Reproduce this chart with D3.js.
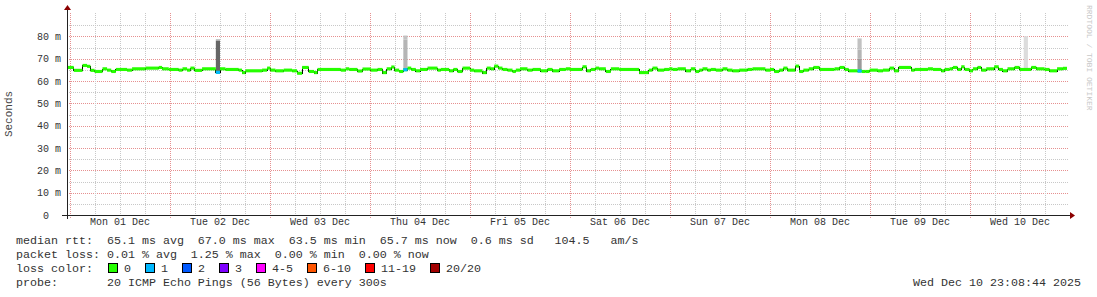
<!DOCTYPE html>
<html>
<head>
<meta charset="utf-8">
<script src="https://cdn.jsdelivr.net/npm/d3@7"></script>
<style>
  body { margin: 0; background: #fff; }
  text { font-family: "Liberation Mono", "DejaVu Sans Mono", monospace; white-space: pre; }
</style>
</head>
<body>
<div id="chart"></div>
<script>
// median rtt, step series: hours after Mon 01 Dec 00:00 -> ms
const medHours = [-0.8, 0.9, 3.0, 4.1, 4.9, 5.9, 7.8, 8.9, 9.9, 11.0, 13.7, 14.9, 18.1, 21.3, 22.1, 23.7,
  26.1, 27.0, 28.1, 28.9, 29.9, 31.7, 35.0, 36.0, 37.3, 40.5, 41.3, 42.1, 46.1, 47.3, 48.1, 49.3, 51.3,
  53.3, 54.5, 55.7, 57.3, 58.6, 59.4, 65.0, 66.2, 67.0, 69.0, 70.2, 72.2, 73.8, 75.0, 76.0, 77.1, 77.9,
  79.0, 80.0, 81.0, 81.9, 83.0, 84.0, 85.8, 88.2, 89.0, 91.0, 92.0, 93.0, 94.2, 96.0, 97.0, 99.0, 100.0,
  101.0, 101.8, 102.8, 103.8, 105.0, 106.2, 107.0, 108.0, 109.8, 111.0, 113.0, 114.6, 115.8, 117.4,
  119.0, 120.0, 123.0, 124.0, 125.0, 126.1, 127.0, 128.6, 129.8, 131.8, 136.6, 138.9, 139.8, 141.0,
  142.6, 143.8, 144.6, 145.8, 147.8, 149.0, 150.1, 151.0, 151.8, 153.0, 153.8, 155.0, 156.6, 157.8,
  159.0, 160.6, 162.6, 163.8, 166.9, 168.0, 169.0, 170.2, 171.2, 172.2, 174.1, 175.0, 176.0, 177.3,
  178.4, 179.9, 183.5, 184.7, 185.9, 186.9, 189.0, 190.0, 190.9, 191.9, 193.9, 195.1, 196.7, 197.8,
  198.9, 201.9, 202.7, 205.9, 207.1, 209.1, 209.9, 211.1, 211.9, 213.0, 213.9, 214.7, 215.9, 216.7,
  217.8, 218.7, 219.9, 221.8, 222.9, 223.9, 225.0, 226.7, 227.9, 230.7, 231.9, 233.9, 235.1, 236.9,
  238.3];
const medValues = [66.1, 64.8, 67.0, 66.6, 64.8, 64.3, 65.5, 64.9, 64.3, 65.2, 64.9, 65.5, 65.8, 66.1, 65.5, 65.2,
  64.9, 65.5, 64.9, 65.8, 64.8, 65.5, 63.9, 65.5, 65.2, 64.9, 63.8, 64.6, 64.9, 65.8, 64.9, 64.6, 64.9,
  64.6, 63.5, 66.1, 64.3, 63.8, 65.2, 64.9, 65.5, 65.2, 64.5, 65.4, 64.9, 65.2, 63.8, 65.5, 66.3, 64.9,
  64.3, 65.1, 65.8, 65.2, 64.6, 65.2, 65.8, 64.9, 65.2, 64.6, 65.2, 64.3, 65.8, 64.9, 64.6, 63.8, 65.8,
  65.5, 66.7, 65.8, 65.2, 64.9, 64.3, 64.9, 65.5, 64.9, 65.2, 64.6, 65.2, 64.6, 65.2,
  65.5, 65.2, 66.4, 64.6, 65.2, 65.8, 65.5, 64.3, 65.5, 65.2, 63.8, 64.9, 65.8, 64.9,
  65.2, 65.5, 65.2, 65.5, 64.6, 65.5, 64.3, 64.9, 65.5, 64.9, 65.2, 64.9, 65.5, 64.9,
  64.6, 64.9, 65.2, 65.5, 64.9, 65.2, 64.3, 64.9, 65.8, 64.9, 66.7, 64.3, 64.9, 65.5,
  66.1, 65.2, 65.5, 66.1, 65.2, 64.6, 64.5, 64.3, 64.3, 64.9, 64.6, 64.9, 65.8, 64.6,
  66.1, 64.9, 65.2, 65.5, 65.2, 64.6, 65.2, 65.5, 66.1, 65.2, 66.4, 65.2, 64.6, 65.5,
  66.1, 64.9, 65.5, 66.4, 65.2, 64.6, 65.5, 66.1, 65.2, 66.1, 65.5, 65.2, 64.6, 65.5,
  65.7];

// smoke (spread of the 20 pings) where it shows: hour, low ms, high ms, ping density
const smokeHours = [35.0, 35.0, 80.0, 80.0, 189.0, 189.0, 189.0, 228.9];
const smokeLow = [63.9, 78.0, 65.1, 78.5, 64.5, 70.0, 74.2, 65.5];
const smokeHigh = [78.0, 78.7, 78.5, 80.4, 70.0, 74.2, 79.1, 80.1];
const smokeDensity = [10, 5, 4, 3, 6, 4, 3, 1];

// packet loss (of 20) per hour slot, where not 0
const lossHours = [35.0, 80.0, 189.0];
const lossCounts = [1, 1, 1];

const lossLabels = ["0", "1", "2", "3", "4-5", "6-10", "11-19", "20/20"];
const lossColors = ["#26ff00", "#00b8ff", "#0059ff", "#7e00ff", "#ff00ff", "#ff5500", "#ff0000", "#a10000"];
const yTicks = [0, 10, 20, 30, 40, 50, 60, 70, 80];
const legendLines = [
  "median rtt:  65.1 ms avg  67.0 ms max  63.5 ms min  65.7 ms now  0.6 ms sd   104.5   am/s",
  "packet loss: 0.01 % avg  1.25 % max  0.00 % min  0.00 % now",
  "loss color:",
  "probe:       20 ICMP Echo Pings (56 Bytes) every 300s"
];
const stamp = "Wed Dec 10 23:08:44 2025";

const W = 1097, H = 297,
  pl = 67, pr = 1067, pt = 13, pb = 215,
  base = Date.UTC(2025, 11, 1),
  hour = h => new Date(base + h * 3600e3),
  t0 = new Date(base - 3 * 864e3),
  t1 = new Date(t0.getTime() + 1000 * 864e3);

const x = d3.scaleUtc().domain([t0, t1]).range([pl, pr]),
  y = d3.scaleLinear().domain([0, 90.5]).range([pb, pt]),
  gray = d3.scaleLinear().domain([1, 10]).range(["#dcdcdc", "#666666"]),
  lossColor = n => n === 0 ? lossColors[0] : n === 1 ? lossColors[1] : n === 2 ? lossColors[2] :
    n === 3 ? lossColors[3] : n <= 5 ? lossColors[4] : n <= 10 ? lossColors[5] : n < 20 ? lossColors[6] : lossColors[7];

const svg = d3.select("#chart").append("svg").attr("width", W).attr("height", H);

svg.append("defs").append("clipPath").attr("id", "plot")
  .append("rect").attr("x", pl).attr("y", pt).attr("width", pr - pl).attr("height", pb - pt);

// grid
const grid = svg.append("g").attr("shape-rendering", "crispEdges");
grid.selectAll(".hmin").data(d3.range(5, 90, 5)).enter().append("line")
  .attr("x1", pl).attr("x2", pr + 1).attr("y1", d => Math.round(y(d)) + 0.5).attr("y2", d => Math.round(y(d)) + 0.5)
  .attr("stroke", d => d % 10 ? "#c8c8c8" : "#e69090").attr("stroke-dasharray", "1,1");
grid.selectAll(".vmin").data(d3.utcHour.every(6).range(t0, t1)).enter().append("line")
  .attr("x1", d => Math.round(x(d)) + 0.5).attr("x2", d => Math.round(x(d)) + 0.5)
  .attr("y1", pt).attr("y2", d => d.getUTCHours() === 0 ? pb + 4 : pb)
  .attr("stroke", d => d.getUTCHours() === 0 ? "#e69090" : "#c8c8c8").attr("stroke-dasharray", "1,1");

const plot = svg.append("g").attr("clip-path", "url(#plot)");

// smoke
plot.selectAll(".smoke").data(smokeHours).enter().append("rect")
  .attr("x", d => x(hour(d))).attr("width", d => x(hour(d + 1)) - x(hour(d)))
  .attr("y", (d, i) => y(smokeHigh[i])).attr("height", (d, i) => y(smokeLow[i]) - y(smokeHigh[i]))
  .attr("fill", (d, i) => gray(smokeDensity[i]));

// median line
const pts = medHours.map((h, i) => [h, medValues[i]]).concat([[240, medValues[medValues.length - 1]]]);
plot.append("path")
  .attr("d", d3.line().curve(d3.curveStepAfter).x(d => x(hour(d[0]))).y(d => Math.round(y(d[1])) + 0.5)(pts))
  .attr("fill", "none").attr("stroke", "#000").attr("stroke-width", 1).attr("shape-rendering", "crispEdges");

// median band coloured by loss
const band = 0.7;
plot.selectAll(".band").data(medHours).enter().append("rect")
  .attr("x", d => x(hour(d)))
  .attr("width", (d, i) => x(hour(i + 1 < medHours.length ? medHours[i + 1] : 240)) - x(hour(d)))
  .attr("y", (d, i) => y(medValues[i] + band)).attr("height", (d, i) => y(medValues[i] - band) - y(medValues[i] + band))
  .attr("fill", lossColors[0]);

const medAt = h => medValues[d3.bisectRight(medHours, h) - 1];
plot.selectAll(".loss").data(lossHours).enter().append("rect")
  .attr("x", d => x(hour(d))).attr("width", d => x(hour(d + 1)) - x(hour(d)))
  .attr("y", d => y(medAt(d) + band)).attr("height", d => y(medAt(d) - band) - y(medAt(d) + band))
  .attr("fill", (d, i) => lossColor(lossCounts[i]));

// axes
const axis = svg.append("g").attr("shape-rendering", "crispEdges");
axis.append("line").attr("x1", pl - 5).attr("x2", pr + 4).attr("y1", pb + 0.5).attr("y2", pb + 0.5).attr("stroke", "#222");
axis.append("line").attr("x1", pl + 0.5).attr("x2", pl + 0.5).attr("y1", pb + 4).attr("y2", pt - 4).attr("stroke", "#222");
svg.append("path").attr("d", `M${pl - 3},${pt - 3}L${pl + 4},${pt - 3}L${pl + 0.5},${pt - 8}Z`).attr("fill", "#8b0000");
svg.append("path").attr("d", `M${pr + 3},${pb - 3}L${pr + 3},${pb + 4}L${pr + 8},${pb + 0.5}Z`).attr("fill", "#8b0000");

svg.selectAll(".ylab").data(yTicks).enter().append("text")
  .attr("x", 61).attr("y", d => y(d) + 3.5).attr("text-anchor", "end")
  .attr("font-size", 10).attr("fill", "#333")
  .text(d => d === 0 ? "0  " : d + " m");

svg.selectAll(".xlab").data(d3.utcDay.range(hour(0), hour(240))).enter().append("text")
  .attr("x", d => x(d3.utcHour.offset(d, 12))).attr("y", pb + 9.5).attr("text-anchor", "middle")
  .attr("font-size", 10).attr("fill", "#333")
  .text(d3.utcFormat("%a %d %b"));

svg.append("text").attr("transform", `translate(12,${(pt + pb) / 2}) rotate(-90)`)
  .attr("text-anchor", "middle").attr("font-size", 11).attr("fill", "#444").text("Seconds");

svg.append("text").attr("transform", "translate(1087,5) rotate(90)")
  .attr("font-size", 8).attr("fill", "#c8c8c8").text("RRDTOOL / TOBI OETIKER");

// legend
const lh = 14, ly = 244, cw = 7;
svg.selectAll(".leg").data(legendLines).enter().append("text")
  .attr("x", 16).attr("y", (d, i) => ly + i * lh)
  .attr("font-size", 11.67).attr("fill", "#333").text(d => d);

let cx = 16 + 13 * cw + 1;
const boxes = svg.append("g");
lossLabels.forEach((lab, i) => {
  boxes.append("rect").attr("x", cx + 0.5).attr("y", ly + 2 * lh - 8.5).attr("width", 9).attr("height", 9)
    .attr("fill", lossColors[i]).attr("stroke", "#000").attr("shape-rendering", "crispEdges");
  boxes.append("text").attr("x", cx + 16).attr("y", ly + 2 * lh)
    .attr("font-size", 11.67).attr("fill", "#333").text(lab);
  cx += 16 + lab.length * cw + 14;
});

svg.append("text").attr("x", 1081).attr("y", ly + 3 * lh).attr("text-anchor", "end")
  .attr("font-size", 11.67).attr("fill", "#333").text(stamp);
</script>
</body>
</html>
